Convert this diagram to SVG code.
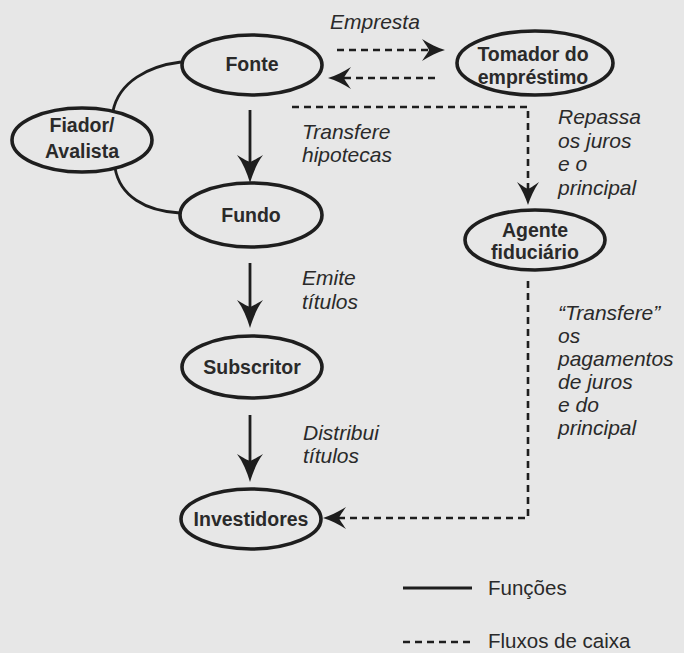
<svg xmlns="http://www.w3.org/2000/svg" width="684" height="653" viewBox="0 0 684 653">
  <style>
    .node ellipse { fill: none; stroke: #1e1e1e; stroke-width: 3.6; }
    .node text { font-family: "Liberation Sans", Arial, Helvetica, sans-serif; font-weight: bold; font-size: 19.5px; fill: #2a2a2a; text-anchor: middle; }
    .lbl { font-family: "Liberation Sans", Arial, Helvetica, sans-serif; font-style: italic; font-size: 21px; fill: #2a2a2a; }
    .leg { font-family: "Liberation Sans", Arial, Helvetica, sans-serif; font-size: 20.5px; fill: #2a2a2a; }
    .solid { fill: none; stroke: #1e1e1e; stroke-width: 2.8; }
    .dash { fill: none; stroke: #1e1e1e; stroke-width: 2.6; stroke-dasharray: 7 5; }
    .arcs { fill: none; stroke: #1e1e1e; stroke-width: 2.8; }
  </style>
  <defs>
    <marker id="arrS" markerUnits="userSpaceOnUse" viewBox="-30 -14 32 28" markerWidth="32" markerHeight="28" refX="-10" refY="0" orient="auto" overflow="visible">
      <path d="M0,0 C-10,-3 -20,-7 -28,-13 C-24,-6 -22,-3 -21,0 C-22,3 -24,6 -28,13 C-20,7 -10,3 0,0 Z" fill="#1e1e1e"/>
    </marker>
    <marker id="arrD" markerUnits="userSpaceOnUse" viewBox="-26 -12 28 24" markerWidth="28" markerHeight="24" refX="-8" refY="0" orient="auto" overflow="visible">
      <path d="M0,0 C-8,-2.5 -15,-6 -23,-11 C-19,-5 -17,-2.5 -16,0 C-17,2.5 -19,5 -23,11 C-15,6 -8,2.5 0,0 Z" fill="#1e1e1e"/>
    </marker>
  </defs>

  <rect x="0" y="0" width="684" height="653" fill="#e7e7e7"/>

  <g id="connectors">
    <path class="solid" d="M250,110 L250,173" marker-end="url(#arrS)"/>
    <path class="solid" d="M250,263 L250,318" marker-end="url(#arrS)"/>
    <path class="solid" d="M250,415 L250,472" marker-end="url(#arrS)"/>
    <path class="arcs" d="M181,62 C148,66 119,82 113,111"/>
    <path class="arcs" d="M115,168 C120,196 145,211 180,213"/>
    <path class="dash" d="M337,50 L437,50" marker-end="url(#arrD)"/>
    <path class="dash" d="M435,78 L336,78" marker-end="url(#arrD)"/>
    <path class="dash" d="M292,107 L528,107 L528,197" marker-end="url(#arrD)"/>
    <path class="dash" d="M528,281 L528,518 L331,518" marker-end="url(#arrD)"/>
  </g>

  <g id="fonte" class="node">
    <ellipse cx="252" cy="65" rx="70" ry="30"/>
    <text x="252" y="71">Fonte</text>
  </g>
  <g id="tomador" class="node">
    <ellipse cx="535" cy="63" rx="78" ry="32"/>
    <text x="533" y="61">Tomador do</text>
    <text x="533" y="84">empréstimo</text>
  </g>
  <g id="fiador" class="node">
    <ellipse cx="82" cy="140" rx="70" ry="32"/>
    <text x="82" y="132">Fiador/</text>
    <text x="82" y="158">Avalista</text>
  </g>
  <g id="fundo" class="node">
    <ellipse cx="251" cy="215" rx="71" ry="32"/>
    <text x="251" y="222">Fundo</text>
  </g>
  <g id="agente" class="node">
    <ellipse cx="535" cy="240" rx="70" ry="30"/>
    <text x="535" y="237">Agente</text>
    <text x="535" y="259">fiduciário</text>
  </g>
  <g id="subscritor" class="node">
    <ellipse cx="252" cy="367" rx="70" ry="31"/>
    <text x="252" y="374">Subscritor</text>
  </g>
  <g id="investidores" class="node">
    <ellipse cx="251" cy="519" rx="70" ry="30"/>
    <text x="251" y="526">Investidores</text>
  </g>

  <g id="labels">
    <text class="lbl" x="330" y="29">Empresta</text>
    <text class="lbl" x="302" y="139">Transfere</text>
    <text class="lbl" x="302" y="162">hipotecas</text>
    <text class="lbl" x="558" y="124">Repassa</text>
    <text class="lbl" x="558" y="148">os juros</text>
    <text class="lbl" x="558" y="171">e o</text>
    <text class="lbl" x="558" y="195">principal</text>
    <text class="lbl" x="302" y="285">Emite</text>
    <text class="lbl" x="302" y="309">títulos</text>
    <text class="lbl" x="558" y="320">“Transfere”</text>
    <text class="lbl" x="558" y="343">os</text>
    <text class="lbl" x="558" y="366">pagamentos</text>
    <text class="lbl" x="558" y="389">de juros</text>
    <text class="lbl" x="558" y="412">e do</text>
    <text class="lbl" x="558" y="435">principal</text>
    <text class="lbl" x="303" y="440">Distribui</text>
    <text class="lbl" x="303" y="463">títulos</text>
  </g>

  <g id="legend">
    <line class="solid" x1="403" y1="588" x2="472" y2="588"/>
    <text class="leg" x="488" y="595">Funções</text>
    <line class="dash" x1="403" y1="642" x2="472" y2="642"/>
    <text class="leg" x="488" y="648">Fluxos de caixa</text>
  </g>
</svg>
